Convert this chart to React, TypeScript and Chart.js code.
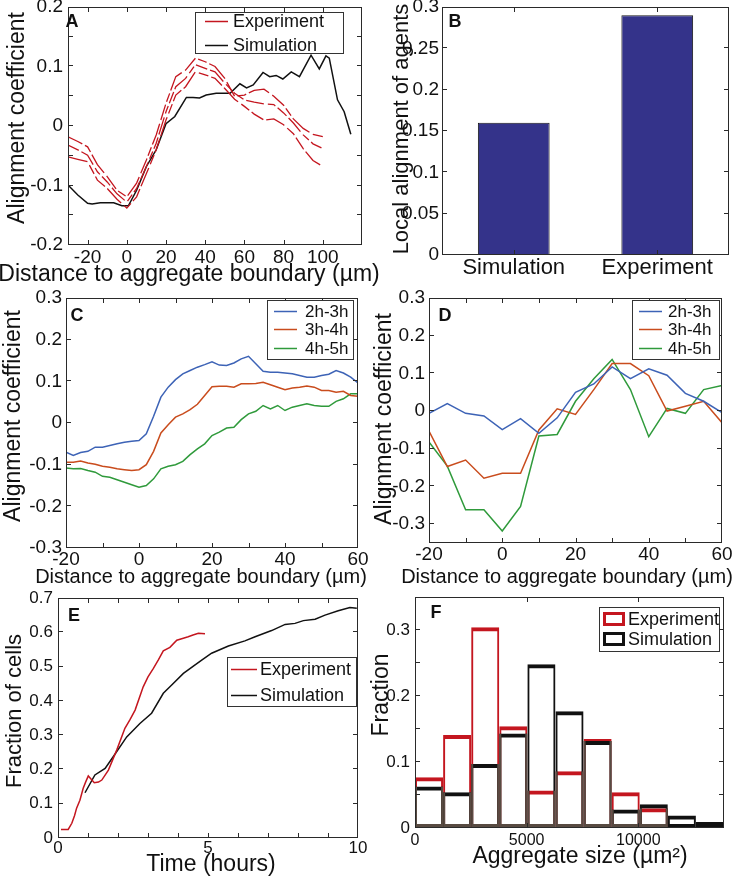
import React, { useEffect, useRef } from 'react';
import { Chart, registerables } from 'chart.js';

Chart.register(...registerables);

const FONT = "'Liberation Sans', Arial, Helvetica, sans-serif";

// ---------------- Panel A data ----------------
const distA = [-30, -25, -20, -15, -10, -5, 0, 5, 10, 15, 20, 25, 30, 35, 40, 45, 50, 55, 60, 65, 70, 75, 80, 85, 90, 95, 100];
const expAUpper = [-0.018, -0.026, -0.035, -0.065, -0.085, -0.108, -0.119, -0.096, -0.057, -0.015, 0.038, 0.083, 0.094, 0.114, 0.108, 0.1, 0.08, 0.05, 0.052, 0.06, 0.062, 0.05, 0.035, 0.012, -0.004, -0.014, -0.018];
const expAMiddle = [-0.032, -0.04, -0.049, -0.077, -0.094, -0.114, -0.128, -0.105, -0.068, -0.029, 0.024, 0.066, 0.08, 0.103, 0.097, 0.091, 0.072, 0.055, 0.044, 0.04, 0.037, 0.036, 0.022, 0.005, -0.015, -0.03, -0.038];
const expALower = [-0.052, -0.056, -0.06, -0.091, -0.105, -0.123, -0.138, -0.119, -0.08, -0.04, 0.01, 0.052, 0.066, 0.091, 0.086, 0.08, 0.063, 0.045, 0.033, 0.02, 0.01, 0.012, 0.002, -0.013, -0.038, -0.058, -0.068];
const simADist = [-30, -25, -20, -17.7, -13.5, -6.7, -2.5, 0.8, 5, 10, 15, 20, 24.5, 30.4, 33.8, 37.1, 40.5, 45.6, 52.7, 57.7, 61.1, 64.5, 69.5, 72.9, 76.2, 79.6, 83.9, 88.1, 94, 98.2, 101.6, 103.3, 107.5, 110.9, 114.3];
const simAAlign = [-0.099, -0.116, -0.13, -0.131, -0.129, -0.129, -0.134, -0.134, -0.108, -0.068, -0.04, 0.004, 0.016, 0.048, 0.048, 0.047, 0.052, 0.055, 0.055, 0.071, 0.064, 0.069, 0.09, 0.083, 0.085, 0.079, 0.091, 0.083, 0.119, 0.096, 0.118, 0.114, 0.044, 0.024, -0.014];
const marksAX = [-20, 0, 20, 40, 60, 80, 100];
const labelsAX = [-20, 0, 20, 40, 60, 80, 100];
const marksAY = [-0.2, -0.15, -0.1, -0.05, 0, 0.05, 0.1, 0.15, 0.2];
const labelsAY = [-0.2, -0.1, 0, 0.1, 0.2];

// ---------------- Panel B data ----------------
const categoriesB = ['Simulation', 'Experiment'];
const valuesB = [0.16, 0.29];
const marksBY = [0, 0.05, 0.1, 0.15, 0.2, 0.25, 0.3];
const labelsBY = [0, 0.05, 0.1, 0.15, 0.2, 0.25, 0.3];

// ---------------- Panel C data ----------------
const distC = [-20, -18, -16, -14, -12, -10, -8, -6, -4, -2, 0, 2, 4, 6, 8, 10, 12, 14, 16, 18, 20, 22, 24, 26, 28, 30, 32, 34, 36, 38, 40, 42, 44, 46, 48, 50, 52, 54, 56, 58, 60];
const blueC = [-0.07, -0.078, -0.071, -0.068, -0.058, -0.058, -0.054, -0.05, -0.046, -0.044, -0.042, -0.026, 0.016, 0.062, 0.086, 0.104, 0.118, 0.126, 0.134, 0.14, 0.147, 0.139, 0.138, 0.144, 0.154, 0.16, 0.142, 0.124, 0.122, 0.122, 0.12, 0.118, 0.114, 0.11, 0.11, 0.114, 0.117, 0.126, 0.12, 0.11, 0.096];
const redC = [-0.094, -0.094, -0.091, -0.096, -0.099, -0.104, -0.106, -0.11, -0.112, -0.114, -0.112, -0.1, -0.068, -0.024, -0.004, 0.014, 0.022, 0.032, 0.045, 0.066, 0.087, 0.088, 0.088, 0.086, 0.094, 0.094, 0.095, 0.098, 0.092, 0.086, 0.08, 0.084, 0.086, 0.089, 0.086, 0.078, 0.078, 0.074, 0.076, 0.066, 0.064];
const greenC = [-0.108, -0.11, -0.109, -0.114, -0.118, -0.128, -0.13, -0.136, -0.142, -0.148, -0.154, -0.15, -0.134, -0.11, -0.104, -0.1, -0.092, -0.076, -0.062, -0.05, -0.03, -0.022, -0.012, -0.01, 0.008, 0.022, 0.028, 0.042, 0.034, 0.042, 0.03, 0.038, 0.042, 0.046, 0.042, 0.04, 0.04, 0.052, 0.058, 0.07, 0.07];
const marksCX = [-20, -10, 0, 10, 20, 30, 40, 50, 60];
const labelsCX = [-20, 0, 20, 40, 60];
const marksCY = [-0.3, -0.2, -0.1, 0, 0.1, 0.2, 0.3];
const labelsCY = [-0.3, -0.2, -0.1, 0, 0.1, 0.2, 0.3];
const seriesNamesCD = ['2h-3h', '3h-4h', '4h-5h'];

// ---------------- Panel D data ----------------
const distD = [-20, -15, -10, -5, 0, 5, 10, 15, 20, 25, 30, 35, 40, 45, 50, 55, 60];
const blueD = [-0.006, 0.02, -0.006, -0.013, -0.049, -0.02, -0.059, -0.018, 0.05, 0.072, 0.117, 0.086, 0.112, 0.095, 0.047, 0.026, -0.004];
const redD = [-0.053, -0.147, -0.13, -0.178, -0.165, -0.165, -0.05, 0.006, -0.009, 0.057, 0.126, 0.126, 0.094, 0, 0.013, 0.026, -0.031];
const greenD = [-0.082, -0.146, -0.262, -0.262, -0.318, -0.253, -0.066, -0.062, 0.026, 0.086, 0.137, 0.057, -0.068, 0.007, -0.006, 0.057, 0.068];
const marksDX = [-20, -10, 0, 10, 20, 30, 40, 50, 60];
const labelsDX = [-20, 0, 20, 40, 60];
const marksDY = [-0.3, -0.2, -0.1, 0, 0.1, 0.2, 0.3];
const labelsDY = [-0.3, -0.2, -0.1, 0, 0.1, 0.2, 0.3];

// ---------------- Panel E data ----------------
const expETime = [0.1, 0.34, 0.46, 0.55, 0.62, 0.73, 0.84, 0.92, 1.01, 1.1, 1.21, 1.35, 1.46, 1.68, 1.96, 2.23, 2.4, 2.57, 2.84, 3.0, 3.18, 3.35, 3.51, 3.73, 3.96, 4.15, 4.34, 4.5, 4.68, 4.9];
const expEFrac = [0.025, 0.025, 0.043, 0.065, 0.087, 0.11, 0.145, 0.163, 0.181, 0.172, 0.161, 0.163, 0.169, 0.198, 0.257, 0.32, 0.345, 0.373, 0.441, 0.47, 0.495, 0.52, 0.546, 0.556, 0.577, 0.582, 0.587, 0.592, 0.597, 0.596];
const simETime = [0.9, 1.23, 1.57, 1.84, 2.29, 2.73, 3.12, 3.51, 3.79, 4.18, 4.57, 4.79, 5.12, 5.68, 6.23, 6.57, 7.12, 7.57, 7.9, 8.18, 8.57, 8.9, 9.34, 9.73, 9.96];
const simEFrac = [0.132, 0.184, 0.203, 0.237, 0.295, 0.334, 0.364, 0.422, 0.446, 0.48, 0.505, 0.519, 0.539, 0.56, 0.575, 0.587, 0.605, 0.623, 0.626, 0.634, 0.638, 0.65, 0.663, 0.672, 0.67];
const marksEX = [0, 1, 2, 3, 4, 5, 6, 7, 8, 9, 10];
const labelsEX = [0, 5, 10];
const marksEY = [0, 0.1, 0.2, 0.3, 0.4, 0.5, 0.6, 0.7];
const labelsEY = [0, 0.1, 0.2, 0.3, 0.4, 0.5, 0.6, 0.7];

// ---------------- Panel F data ----------------
const binCentersF = [629, 1887, 3145, 4403, 5661, 6919, 8177, 9435, 10693, 11951, 13209];
const expF = [0.077, 0.141, 0.304, 0.154, 0.057, 0.086, 0.135, 0.054, 0.03, 0, 0];
const simF = [0.063, 0.054, 0.097, 0.143, 0.248, 0.177, 0.132, 0.028, 0.036, 0.019, 0.009];
const fAxisMax = 13838;
const marksFX = [0, 5000, 10000];
const labelsFX = [0, 5000, 10000];
const marksFY = [0, 0.05, 0.1, 0.15, 0.2, 0.25, 0.3, 0.35];
const labelsFY = [0, 0.1, 0.2, 0.3];

// ---------------- styles / layout ----------------
const RED = '#c4161f';
const BLACK = '#111111';
const BLUE = '#3d63b6';
const ORANGE = '#c94c1d';
const GREEN = '#2f9a3b';
const NAVY = '#34338a';
const SHARED = '#584b42';
const INK = '#111111';

type Rect = { l: number; t: number; w: number; h: number };
type Plot = { l: number; t: number; r: number; b: number };

const RA: Rect = { l: 0, t: 0, w: 385, h: 290 };
const PA: Plot = { l: 68, t: 7, r: 362, b: 245 };
const RB: Rect = { l: 370, t: 0, w: 366, h: 290 };
const PB: Plot = { l: 442, t: 7, r: 729, b: 255 };
const RC: Rect = { l: 0, t: 290, w: 385, h: 300 };
const PC: Plot = { l: 66, t: 298, r: 358, b: 548 };
const RD: Rect = { l: 370, t: 290, w: 366, h: 300 };
const PD: Plot = { l: 429, t: 298, r: 722, b: 543 };
const RE: Rect = { l: 0, t: 580, w: 370, h: 306 };
const PE: Plot = { l: 58, t: 598, r: 358, b: 838 };
const RF: Rect = { l: 370, t: 580, w: 366, h: 306 };
const PF: Plot = { l: 415, t: 597, r: 724, b: 828 };

type Txt = { text: string; x: number; y: number; size: number; bold?: boolean; vertical?: boolean };
type LegItem = { label: string; color: string; y: number; rect?: boolean };
type Leg = { box: [number, number, number, number]; sample: [number, number]; textX: number; font: number; items: LegItem[] };

function fits(rect: Rect, plot: Plot) {
  return {
    y: (s: any) => {
      s.width = plot.l - rect.l;
      s.paddingTop = 0;
      s.paddingBottom = 0;
    },
    x: (s: any) => {
      s.height = rect.t + rect.h - plot.b;
      s.paddingLeft = 0;
      s.paddingRight = 0;
    },
  };
}

function common(rect: Rect, plot: Plot) {
  return {
    responsive: false,
    maintainAspectRatio: false,
    animation: false,
    devicePixelRatio: 1,
    events: [],
    layout: { padding: { top: plot.t - rect.t, right: rect.l + rect.w - plot.r, left: 0, bottom: 0 } },
    plugins: { legend: { display: false }, tooltip: { enabled: false } },
  };
}

function fmt(v: number) {
  return v === 0 ? '0' : String(v);
}

function linAxis(position: string, min: number, max: number, marks: number[], labels: number[], size: number, pad: number, fit: any, extra: any = {}) {
  return {
    type: 'linear',
    position,
    min,
    max,
    offset: false,
    grid: { display: false, drawTicks: false, offset: false },
    border: { display: false },
    afterBuildTicks: (s: any) => {
      s.ticks = marks.map((v) => ({ value: v }));
    },
    afterFit: fit,
    ticks: {
      autoSkip: false,
      maxRotation: 0,
      minRotation: 0,
      padding: pad,
      color: INK,
      font: { family: FONT, size },
      callback: (v: number) => (labels.includes(v) ? fmt(v) : ''),
    },
    ...extra,
  };
}

function lineDs(xs: number[], ys: number[], color: string, width: number, dash: number[] = []) {
  return {
    data: xs.map((x, i) => ({ x, y: ys[i] })),
    borderColor: color,
    backgroundColor: color,
    borderWidth: width,
    borderDash: dash,
    pointRadius: 0,
    fill: false,
    tension: 0,
  };
}

function decor(rect: Rect, xId: string, yId: string, texts: Txt[], legend?: Leg) {
  return {
    id: 'decor',
    afterDraw(chart: any) {
      const ctx = chart.ctx as CanvasRenderingContext2D;
      const ox = rect.l;
      const oy = rect.t;
      const a = chart.chartArea;
      const L = Math.round(a.left);
      const R = Math.round(a.right);
      const T = Math.round(a.top);
      const B = Math.round(a.bottom);
      ctx.save();
      ctx.strokeStyle = '#2a2a2a';
      ctx.lineWidth = 1;
      ctx.setLineDash([]);
      ctx.beginPath();
      const xs = chart.scales[xId];
      xs.ticks.forEach((t: any) => {
        const p = Math.round(xs.getPixelForValue(t.value)) + 0.5;
        if (p < L + 1 || p > R - 1) return;
        ctx.moveTo(p, B);
        ctx.lineTo(p, B - 5);
        ctx.moveTo(p, T);
        ctx.lineTo(p, T + 5);
      });
      const ys = chart.scales[yId];
      ys.ticks.forEach((t: any) => {
        const p = Math.round(ys.getPixelForValue(t.value)) - 0.5;
        if (p < T + 1 || p > B - 1) return;
        ctx.moveTo(L, p);
        ctx.lineTo(L + 5, p);
        ctx.moveTo(R, p);
        ctx.lineTo(R - 5, p);
      });
      ctx.stroke();
      ctx.strokeRect(L + 0.5, T + 0.5, R - L - 1, B - T - 1);

      if (legend) {
        const [x1, y1, x2, y2] = legend.box;
        ctx.fillStyle = '#ffffff';
        ctx.fillRect(x1 - ox, y1 - oy, x2 - x1, y2 - y1);
        ctx.strokeStyle = '#333333';
        ctx.lineWidth = 1;
        ctx.strokeRect(x1 - ox + 0.5, y1 - oy + 0.5, x2 - x1 - 1, y2 - y1 - 1);
        legend.items.forEach((it) => {
          const yy = it.y - oy;
          if (it.rect) {
            ctx.strokeStyle = it.color;
            ctx.lineWidth = 3;
            ctx.strokeRect(legend.sample[0] - ox + 1.5, yy - 5.5, legend.sample[1] - legend.sample[0] - 3, 11);
          } else {
            ctx.strokeStyle = it.color;
            ctx.lineWidth = 1.5;
            ctx.beginPath();
            ctx.moveTo(legend.sample[0] - ox, yy + 0.5);
            ctx.lineTo(legend.sample[1] - ox, yy + 0.5);
            ctx.stroke();
          }
          ctx.fillStyle = INK;
          ctx.font = `${legend.font}px ${FONT}`;
          ctx.textAlign = 'left';
          ctx.textBaseline = 'middle';
          ctx.fillText(it.label, legend.textX - ox, yy + 1);
        });
      }

      ctx.fillStyle = INK;
      ctx.textAlign = 'center';
      ctx.textBaseline = 'middle';
      texts.forEach((t) => {
        ctx.font = `${t.bold ? 'bold ' : ''}${t.size}px ${FONT}`;
        if (t.vertical) {
          ctx.save();
          ctx.translate(t.x - ox, t.y - oy);
          ctx.rotate(-Math.PI / 2);
          ctx.fillText(t.text, 0, 0);
          ctx.restore();
        } else {
          ctx.fillText(t.text, t.x - ox, t.y - oy);
        }
      });
      ctx.restore();
    },
  };
}

// ---------------- chart configs ----------------
function configA() {
  const f = fits(RA, PA);
  return {
    type: 'line',
    data: {
      datasets: [
        lineDs(distA, expAUpper, RED, 1.3, [16, 3, 9, 3, 22, 4]),
        lineDs(distA, expAMiddle, RED, 1.3, [12, 3, 18, 4, 8, 3]),
        lineDs(distA, expALower, RED, 1.3, [20, 4, 10, 3, 14, 3]),
        lineDs(simADist, simAAlign, BLACK, 1.5),
      ],
    },
    options: {
      ...common(RA, PA),
      scales: {
        x: linAxis('bottom', -30, 120, marksAX, labelsAX, 19, 1, f.x),
        y: linAxis('left', -0.2, 0.2, marksAY, labelsAY, 19, 5, f.y),
      },
    },
    plugins: [
      decor(RA, 'x', 'y', [
        { text: 'A', x: 72, y: 22, size: 18, bold: true },
        { text: 'Alignment coefficient', x: 18, y: 118, size: 23, vertical: true },
        { text: 'Distance to aggregate boundary (µm)', x: 189, y: 275, size: 23 },
      ], {
        box: [195, 12, 344, 54],
        sample: [205, 228],
        textX: 233,
        font: 18,
        items: [
          { label: 'Experiment', color: RED, y: 21 },
          { label: 'Simulation', color: BLACK, y: 45 },
        ],
      }),
    ],
  };
}

function configB() {
  const f = fits(RB, PB);
  return {
    type: 'bar',
    data: {
      labels: categoriesB,
      datasets: [
        {
          data: valuesB,
          backgroundColor: NAVY,
          borderColor: '#1a1a1a',
          borderWidth: 1,
          borderSkipped: 'start',
          barPercentage: 0.5,
          categoryPercentage: 1,
        },
      ],
    },
    options: {
      ...common(RB, PB),
      scales: {
        x: {
          type: 'category',
          position: 'bottom',
          grid: { display: false, drawTicks: false },
          border: { display: false },
          afterFit: f.x,
          ticks: { padding: 0, color: INK, font: { family: FONT, size: 22 }, maxRotation: 0, autoSkip: false },
        },
        y: linAxis('left', 0, 0.3, marksBY, labelsBY, 19, 3, f.y),
      },
    },
    plugins: [
      decor(RB, 'x', 'y', [
        { text: 'B', x: 455, y: 22, size: 18, bold: true },
        { text: 'Local alignment of agents', x: 402, y: 129, size: 22, vertical: true },
      ]),
    ],
  };
}

function configC() {
  const f = fits(RC, PC);
  return {
    type: 'line',
    data: {
      datasets: [
        lineDs(distC, blueC, BLUE, 1.5),
        lineDs(distC, redC, ORANGE, 1.5),
        lineDs(distC, greenC, GREEN, 1.5),
      ],
    },
    options: {
      ...common(RC, PC),
      scales: {
        x: linAxis('bottom', -20, 60, marksCX, labelsCX, 19, 0, f.x),
        y: linAxis('left', -0.3, 0.3, marksCY, labelsCY, 19, 4, f.y),
      },
    },
    plugins: [
      decor(RC, 'x', 'y', [
        { text: 'C', x: 77, y: 316, size: 18, bold: true },
        { text: 'Alignment coefficient', x: 14, y: 416, size: 23, vertical: true },
        { text: 'Distance to aggregate boundary (µm)', x: 201, y: 577, size: 20 },
      ], {
        box: [267, 300, 354, 360],
        sample: [274, 297],
        textX: 305,
        font: 17,
        items: [
          { label: seriesNamesCD[0], color: BLUE, y: 311 },
          { label: seriesNamesCD[1], color: ORANGE, y: 329 },
          { label: seriesNamesCD[2], color: GREEN, y: 348 },
        ],
      }),
    ],
  };
}

function configD() {
  const f = fits(RD, PD);
  return {
    type: 'line',
    data: {
      datasets: [
        lineDs(distD, blueD, BLUE, 1.5),
        lineDs(distD, redD, ORANGE, 1.5),
        lineDs(distD, greenD, GREEN, 1.5),
      ],
    },
    options: {
      ...common(RD, PD),
      scales: {
        x: linAxis('bottom', -20, 60, marksDX, labelsDX, 19, 0, f.x),
        y: linAxis('left', -0.35, 0.3, marksDY, labelsDY, 19, 4, f.y),
      },
    },
    plugins: [
      decor(RD, 'x', 'y', [
        { text: 'D', x: 445, y: 316, size: 18, bold: true },
        { text: 'Alignment coefficient', x: 385, y: 419, size: 23, vertical: true },
        { text: 'Distance to aggregate boundary (µm)', x: 567, y: 577, size: 20 },
      ], {
        box: [632, 300, 720, 360],
        sample: [639, 662],
        textX: 668,
        font: 17,
        items: [
          { label: seriesNamesCD[0], color: BLUE, y: 311 },
          { label: seriesNamesCD[1], color: ORANGE, y: 329 },
          { label: seriesNamesCD[2], color: GREEN, y: 348 },
        ],
      }),
    ],
  };
}

function configE() {
  const f = fits(RE, PE);
  return {
    type: 'line',
    data: {
      datasets: [
        lineDs(expETime, expEFrac, RED, 1.5),
        lineDs(simETime, simEFrac, BLACK, 1.5),
      ],
    },
    options: {
      ...common(RE, PE),
      scales: {
        x: linAxis('bottom', 0, 10, marksEX, labelsEX, 17, 0, f.x),
        y: linAxis('left', 0, 0.7, marksEY, labelsEY, 17, 5, f.y),
      },
    },
    plugins: [
      decor(RE, 'x', 'y', [
        { text: 'E', x: 74, y: 616, size: 18, bold: true },
        { text: 'Fraction of cells', x: 15, y: 711, size: 22, vertical: true },
        { text: 'Time (hours)', x: 211, y: 865, size: 23 },
      ], {
        box: [227, 657, 357, 707],
        sample: [231, 257],
        textX: 260,
        font: 18,
        items: [
          { label: 'Experiment', color: RED, y: 669 },
          { label: 'Simulation', color: BLACK, y: 695 },
        ],
      }),
    ],
  };
}

function configF() {
  const f = fits(RF, PF);
  const sharedF = expF.map((v, i) => Math.min(v, simF[i]));
  const barBase = {
    xAxisID: 'x',
    yAxisID: 'y',
    backgroundColor: 'rgba(255,255,255,0)',
    borderSkipped: false,
    grouped: false,
    barPercentage: 1,
    categoryPercentage: 1,
    inflateAmount: 0,
  };
  return {
    type: 'bar',
    data: {
      labels: binCentersF,
      datasets: [
        { ...barBase, label: 'Experiment', data: expF, borderColor: RED, borderWidth: { top: 4, left: 2, right: 2, bottom: 4 }, order: 2 },
        { ...barBase, label: 'Simulation', data: simF, borderColor: BLACK, borderWidth: { top: 4, left: 2, right: 2, bottom: 4 }, order: 1 },
        { ...barBase, label: 'Both', data: sharedF, borderColor: SHARED, borderWidth: { top: 0, left: 2, right: 2, bottom: 4 }, order: 0 },
      ],
    },
    options: {
      ...common(RF, PF),
      scales: {
        x: { type: 'category', display: false, offset: true, grid: { display: false } },
        xv: linAxis('bottom', 0, fAxisMax, marksFX, labelsFX, 16, 3, f.x),
        y: linAxis('left', 0, 0.35, marksFY, labelsFY, 17, 5, f.y),
      },
    },
    plugins: [
      decor(RF, 'xv', 'y', [
        { text: 'F', x: 436, y: 613, size: 18, bold: true },
        { text: 'Fraction', x: 382, y: 695, size: 23, vertical: true },
        { text: 'Aggregate size (µm²)', x: 580, y: 857, size: 23 },
      ], {
        box: [599, 607, 720, 652],
        sample: [603, 625],
        textX: 628,
        font: 18,
        items: [
          { label: 'Experiment', color: RED, y: 619, rect: true },
          { label: 'Simulation', color: BLACK, y: 639, rect: true },
        ],
      }),
    ],
  };
}

function Panel({ rect, build }: { rect: Rect; build: () => any }) {
  const ref = useRef<HTMLCanvasElement>(null);
  useEffect(() => {
    const chart = new Chart(ref.current as HTMLCanvasElement, build());
    return () => chart.destroy();
  }, []);
  return (
    <canvas
      ref={ref}
      width={rect.w}
      height={rect.h}
      style={{ position: 'absolute', left: rect.l, top: rect.t, width: rect.w, height: rect.h }}
    />
  );
}

export default function App() {
  return (
    <div style={{ position: 'absolute', left: 0, top: 0, width: 736, height: 886, background: '#ffffff', overflow: 'hidden' }}>
      <Panel rect={RA} build={configA} />
      <Panel rect={RB} build={configB} />
      <Panel rect={RC} build={configC} />
      <Panel rect={RD} build={configD} />
      <Panel rect={RE} build={configE} />
      <Panel rect={RF} build={configF} />
    </div>
  );
}
